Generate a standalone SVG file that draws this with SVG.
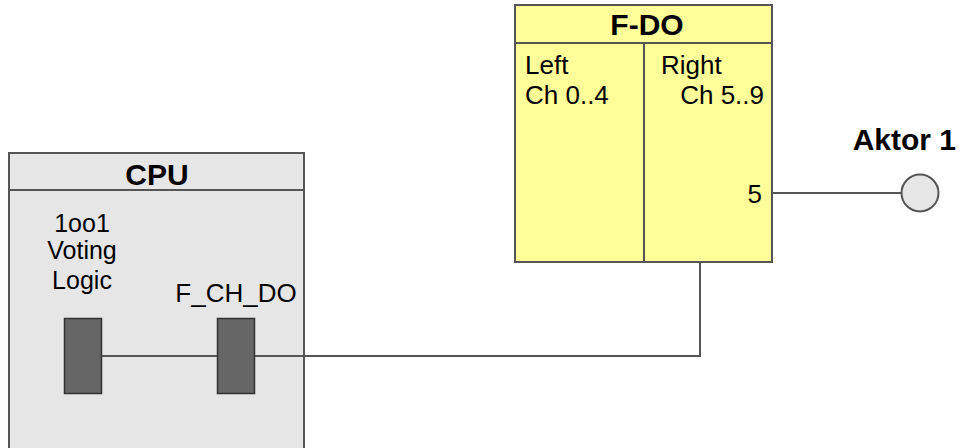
<svg xmlns="http://www.w3.org/2000/svg" width="960" height="448" viewBox="0 0 960 448">
<style>
text{font-family:"Liberation Sans",Arial,sans-serif;fill:#000}
.t{font-size:26px}
.s{font-size:25px}
.b{font-size:30px;font-weight:bold}
.box{stroke:#555;stroke-width:2}
.blk{fill:#666;stroke:#333;stroke-width:1.5}
.w{fill:none;stroke:#555;stroke-width:2}
</style>
<rect width="960" height="448" fill="#fff"/>
<g id="cpu">
<rect class="box" x="9" y="153" width="295" height="310" fill="#e6e6e6"/>
<line class="box" x1="9" y1="190" x2="304" y2="190"/>
<text class="b" x="157" y="185" text-anchor="middle">CPU</text>
<text class="s" x="82" y="232" text-anchor="middle">1oo1</text>
<text class="s" x="82" y="259" text-anchor="middle">Voting</text>
<text class="s" x="82" y="289" text-anchor="middle">Logic</text>
<text class="t" x="236" y="302" text-anchor="middle">F_CH_DO</text>
</g>
<g id="voting"><rect class="blk" x="64.5" y="318.5" width="37" height="75"/></g>
<g id="fchdo"><rect class="blk" x="217.5" y="318.5" width="37" height="75"/></g>
<g id="fdo">
<rect class="box" x="515" y="5" width="257" height="257" fill="#ffff99"/>
<line class="box" x1="515" y1="43" x2="772" y2="43"/>
<line class="box" x1="644" y1="43" x2="644" y2="262"/>
<text class="b" x="647" y="35" text-anchor="middle">F-DO</text>
<text class="t" x="525" y="74">Left</text>
<text class="t" x="525" y="104">Ch 0..4</text>
<text class="t" x="661" y="74">Right</text>
<text class="t" x="764" y="104" text-anchor="end">Ch 5..9</text>
<text class="t" x="762" y="203" text-anchor="end">5</text>
</g>
<g id="aktor1">
<circle cx="920" cy="193" r="18.5" fill="#e6e6e6" stroke="#555" stroke-width="2"/>
<text class="b" x="956" y="150" text-anchor="end">Aktor 1</text>
</g>
<g id="connectors">
<line class="w" x1="102" y1="356" x2="217" y2="356"/>
<polyline class="w" points="255,356 700,356 700,262"/>
<line class="w" x1="772" y1="193" x2="901.5" y2="193"/>
</g>
</svg>
